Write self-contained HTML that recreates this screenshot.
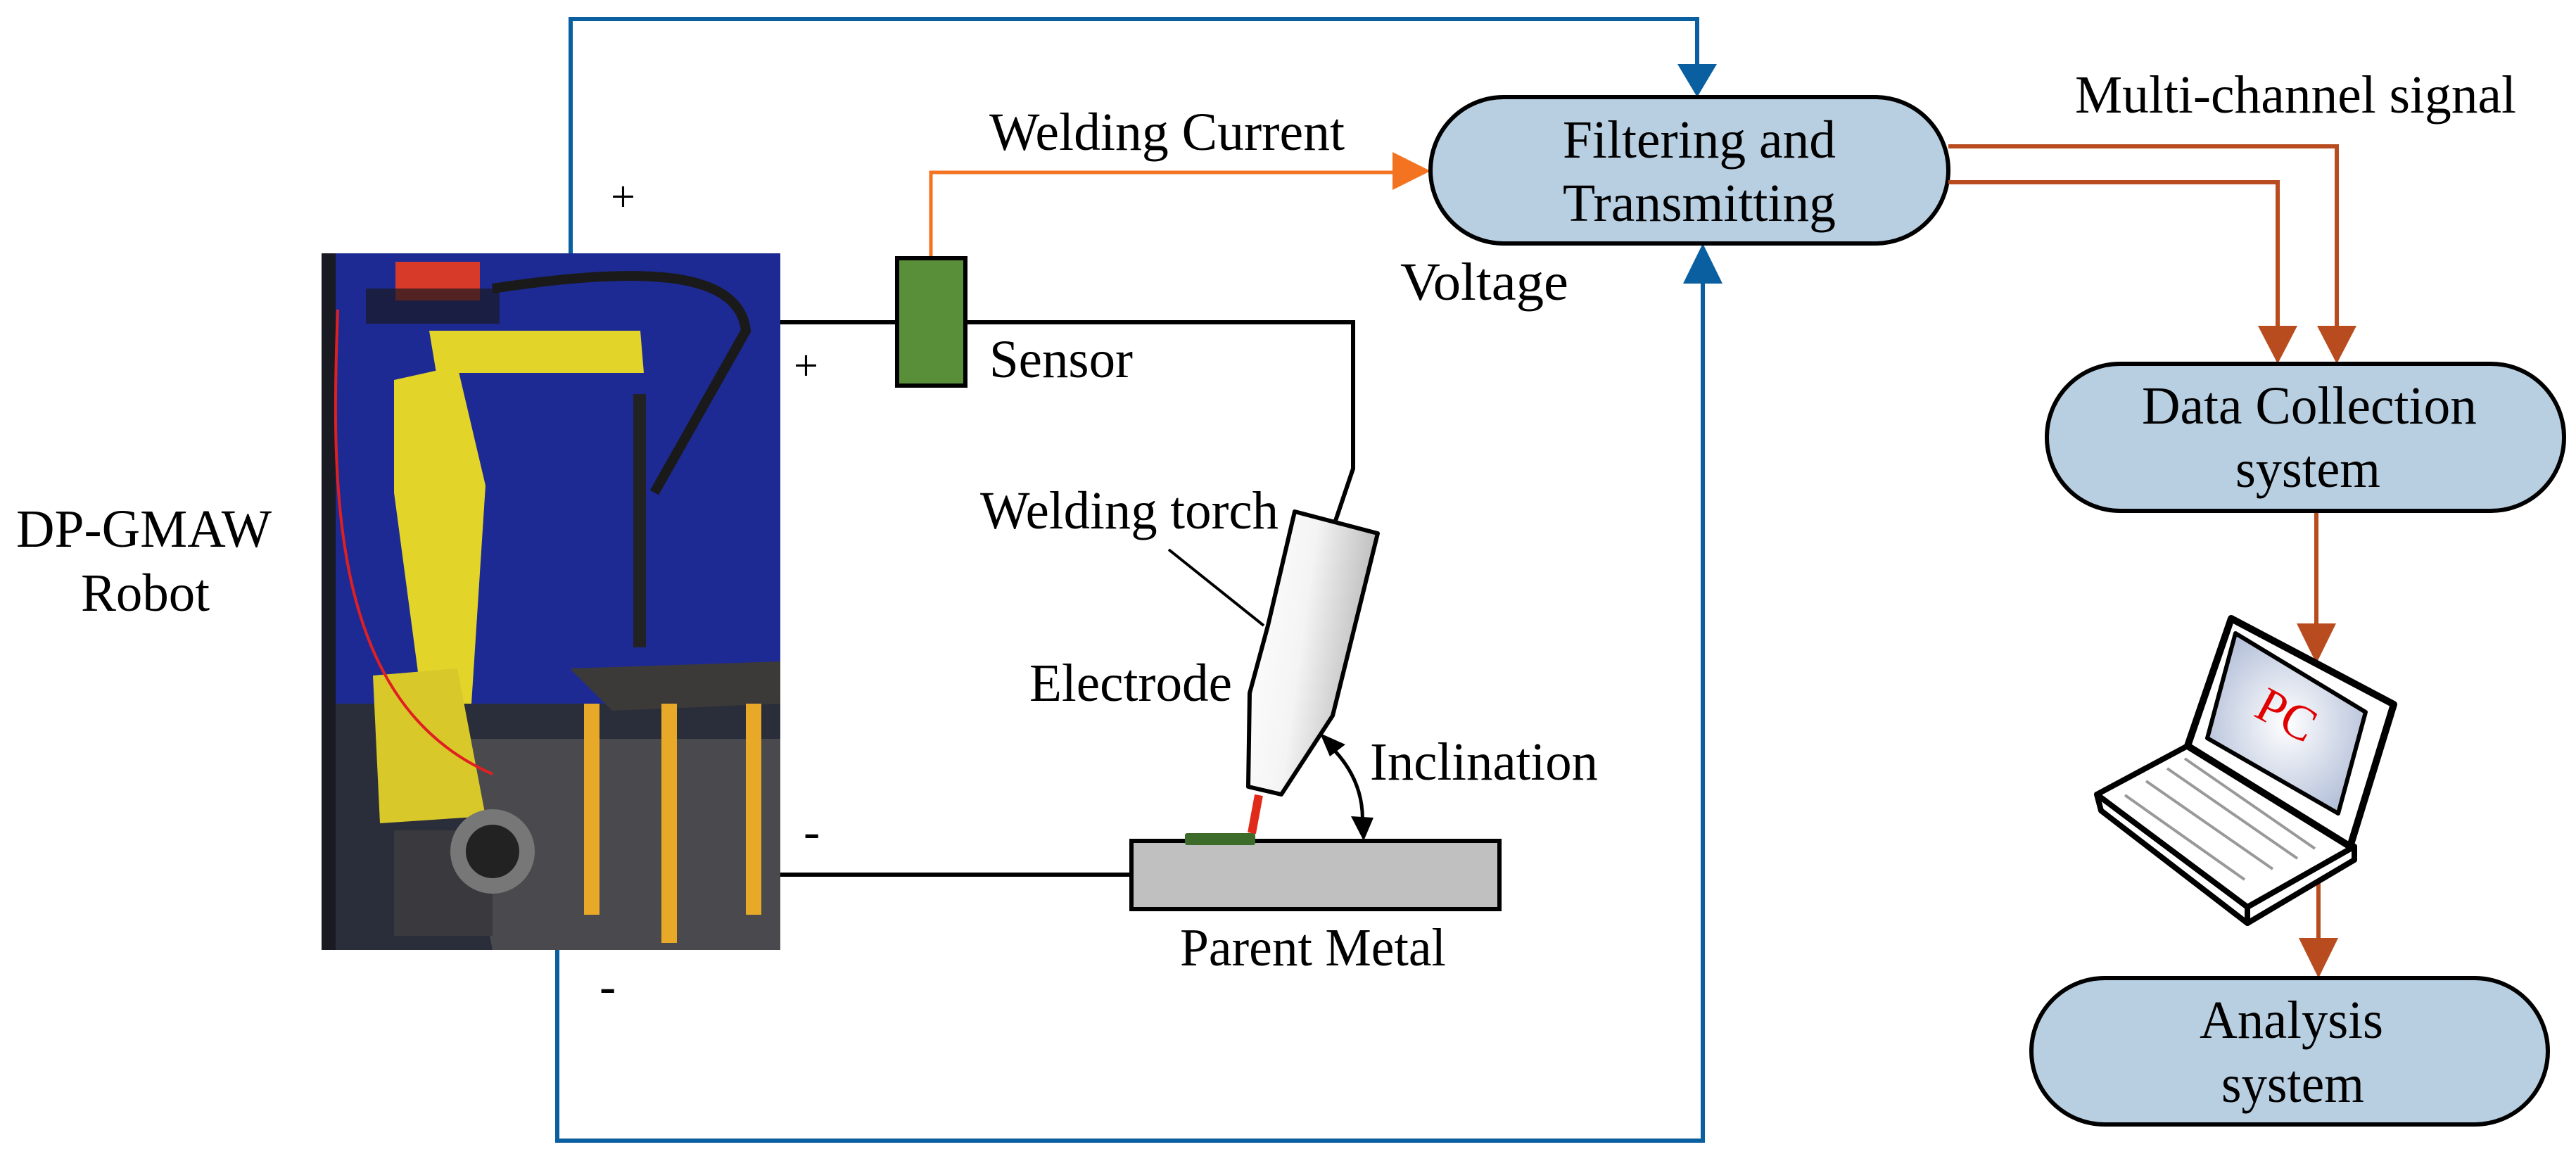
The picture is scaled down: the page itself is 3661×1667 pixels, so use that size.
<!DOCTYPE html>
<html><head><meta charset="utf-8"><style>html,body{margin:0;padding:0;background:#fff}svg{display:block}text{font-family:"Liberation Serif","Times New Roman",serif}</style></head>
<body>
<svg width="3661" height="1667" viewBox="0 0 3661 1667" xmlns="http://www.w3.org/2000/svg" fill="#000">
<defs>
<linearGradient id="tg" x1="0" y1="0" x2="1" y2="0.3"><stop offset="0" stop-color="#fff"/><stop offset="0.5" stop-color="#f4f4f4"/><stop offset="1" stop-color="#b8b8b8"/></linearGradient>
<radialGradient id="sg" cx="0.5" cy="0.5" r="0.6"><stop offset="0" stop-color="#fff"/><stop offset="1" stop-color="#aebbd6"/></radialGradient>
</defs>
<!-- photo -->
<g>
<rect x="457" y="360" width="652" height="990" fill="#1d2a94"/>
<rect x="457" y="1000" width="652" height="350" fill="#2a2d3a"/>
<polygon points="640,1050 1109,1050 1109,1350 700,1350" fill="#4a4a4e"/>
<rect x="457" y="360" width="20" height="990" fill="#1a1a22"/>
<rect x="562" y="372" width="120" height="55" fill="#d83a2a"/>
<rect x="520" y="410" width="190" height="50" fill="#1a1a20" opacity="0.7"/>
<polygon points="610,470 910,470 915,530 620,530" fill="#e3d42a"/>
<polygon points="560,540 650,520 690,690 670,1000 600,1000 560,700" fill="#e3d42a"/>
<polygon points="530,960 650,950 690,1160 540,1170" fill="#d8c82a"/>
<rect x="560" y="1180" width="140" height="150" fill="#3a3a3e"/>
<circle cx="700" cy="1210" r="60" fill="#777"/><circle cx="700" cy="1210" r="38" fill="#222"/>
<polygon points="810,950 1109,940 1109,1000 870,1010" fill="#3c3a38"/>
<rect x="830" y="1000" width="22" height="300" fill="#e8a828"/>
<rect x="940" y="1000" width="22" height="340" fill="#e8a828"/>
<rect x="1060" y="1000" width="22" height="300" fill="#e8a828"/>
<rect x="900" y="560" width="18" height="360" fill="#222"/>
<path d="M480,440 C470,700 470,1000 700,1100" stroke="#e02020" stroke-width="4" fill="none"/>
<path d="M700,410 C900,380 1050,380 1060,470 L930,700" stroke="#1a1a1a" stroke-width="14" fill="none"/>
</g>
<!-- blue loop -->
<g stroke="#0a5fa0" stroke-width="6" fill="none">
<polyline points="811,360 811,27 2412,27 2412,100"/>
<polyline points="792,1350 792,1621 2420,1621 2420,395"/>
</g>
<polygon points="2384,91 2440,91 2412,138" fill="#0a5fa0"/>
<polygon points="2392,403 2448,403 2420,346" fill="#0a5fa0"/>
<!-- orange -->
<polyline points="1323,367 1323,245 1985,245" stroke="#f47321" stroke-width="5" fill="none"/>
<polygon points="1979,216 2033,243 1979,270" fill="#f47321"/>
<!-- black circuit -->
<g stroke="#000" stroke-width="6" fill="none">
<polyline points="1109,458 1275,458"/>
<polyline points="1372,458 1923,458 1923,666 1898,740"/>
<polyline points="1109,1243 1608,1243"/>
<line x1="1661" y1="781" x2="1796" y2="889" stroke-width="4"/>
</g>
<rect x="1275" y="367" width="97" height="181" fill="#5a8f3a" stroke="#000" stroke-width="6"/>
<!-- parent metal -->
<rect x="1608" y="1195" width="523" height="97" fill="#c0c0c0" stroke="#000" stroke-width="6"/>
<rect x="1684" y="1184" width="100" height="17" rx="3" fill="#3d6b2a"/>
<line x1="1789" y1="1130" x2="1779" y2="1184" stroke="#e02a1a" stroke-width="12"/>
<polygon points="1840,727 1958,758 1894,1017 1821,1129 1774,1118 1776,985 1802,889" fill="url(#tg)" stroke="#000" stroke-width="6" stroke-linejoin="round"/>
<path d="M1885,1055 Q1945,1110 1935,1185" stroke="#000" stroke-width="5" fill="none"/>
<polygon points="1876,1042 1912,1058 1890,1075" fill="#000"/>
<polygon points="1920,1160 1952,1162 1938,1195" fill="#000"/>
<rect x="2033" y="138" width="736" height="208" rx="104" fill="#b8cfe2" stroke="#000" stroke-width="6"/>
<g stroke="#b84c1e" stroke-width="6" fill="none">
<polyline points="2769,208 3321,208 3321,470"/>
<polyline points="2769,259 3237,259 3237,470"/>
<line x1="3292" y1="726" x2="3292" y2="890"/>
<line x1="3295" y1="1225" x2="3295" y2="1340"/>
</g>
<g fill="#b84c1e">
<polygon points="3293,463 3349,463 3321,517"/>
<polygon points="3209,463 3265,463 3237,517"/>
<polygon points="3264,886 3320,886 3292,943"/>
<polygon points="3267,1333 3323,1333 3295,1390"/>
</g>
<rect x="2909" y="517" width="735" height="209" rx="104" fill="#b8cfe2" stroke="#000" stroke-width="6"/>
<rect x="2887" y="1390" width="734" height="208" rx="104" fill="#b8cfe2" stroke="#000" stroke-width="6"/>
<g stroke="#000" stroke-linejoin="round">
<polygon points="2980,1129 3194,1289 3194,1312 2986,1152" fill="#fff" stroke-width="8"/>
<polygon points="3194,1289 3346,1203 3346,1222 3194,1312" fill="#fff" stroke-width="8"/>
<polygon points="2980,1129 3109,1060 3346,1203 3194,1289" fill="#fff" stroke-width="8"/>
<polygon points="3171,879 3402,1001 3340,1203 3109,1060" fill="#fff" stroke-width="10"/>
<polygon points="3177,900 3362,1012 3323,1156 3137,1049" fill="url(#sg)" stroke-width="6"/>
</g>
<g stroke="#999" stroke-width="4">
<line x1="3020" y1="1130" x2="3190" y2="1250"/><line x1="3050" y1="1110" x2="3230" y2="1235"/>
<line x1="3080" y1="1092" x2="3265" y2="1220"/><line x1="3105" y1="1078" x2="3290" y2="1206"/>
</g>
<text x="3205" y="1040" font-size="70" fill="#e00000" transform="rotate(28 3250 1020)">PC</text>
<g font-size="76">
<text x="1406" y="213" textLength="505" lengthAdjust="spacingAndGlyphs">Welding Current</text>
<text x="1406" y="536" textLength="204" lengthAdjust="spacingAndGlyphs">Sensor</text>
<text x="1393" y="751" textLength="424" lengthAdjust="spacingAndGlyphs">Welding torch</text>
<text x="1463" y="996" textLength="288" lengthAdjust="spacingAndGlyphs">Electrode</text>
<text x="23" y="777" textLength="363" lengthAdjust="spacingAndGlyphs">DP-GMAW</text>
<text x="115" y="868" textLength="183" lengthAdjust="spacingAndGlyphs">Robot</text>
<text x="1677" y="1372" textLength="378" lengthAdjust="spacingAndGlyphs">Parent Metal</text>
<text x="1947" y="1108" textLength="324" lengthAdjust="spacingAndGlyphs">Inclination</text>
<text x="1990" y="426" textLength="239" lengthAdjust="spacingAndGlyphs">Voltage</text>
<text x="2221" y="224" textLength="388" lengthAdjust="spacingAndGlyphs">Filtering and</text>
<text x="2221" y="314" textLength="388" lengthAdjust="spacingAndGlyphs">Transmitting</text>
<text x="2949" y="160" textLength="627" lengthAdjust="spacingAndGlyphs">Multi-channel signal</text>
<text x="3044" y="602" textLength="476" lengthAdjust="spacingAndGlyphs">Data Collection</text>
<text x="3177" y="692" textLength="206" lengthAdjust="spacingAndGlyphs">system</text>
<text x="3126" y="1475" textLength="261" lengthAdjust="spacingAndGlyphs">Analysis</text>
<text x="3157" y="1566" textLength="203" lengthAdjust="spacingAndGlyphs">system</text>
<text x="868" y="300" font-size="62">+</text>
<text x="1128" y="540" font-size="62">+</text>
<text x="1142" y="1205" font-size="70">-</text>
<text x="852" y="1425" font-size="70">-</text>
</g>
</svg>
</body></html>
